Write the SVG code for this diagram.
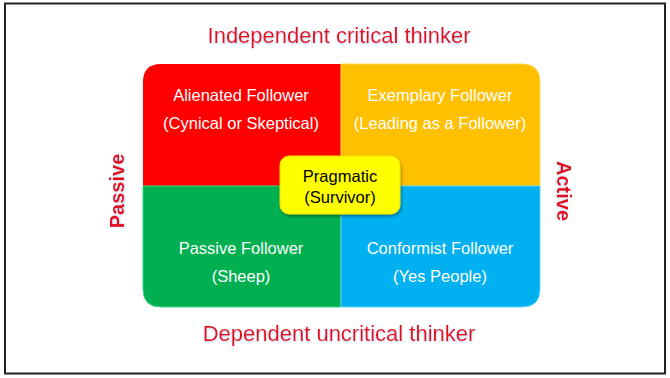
<svg xmlns="http://www.w3.org/2000/svg" width="670" height="378" viewBox="0 0 670 378">
<defs>
<filter id="glow" x="-10%" y="-30%" width="120%" height="160%"><feDropShadow dx="0" dy="1" stdDeviation="1" flood-color="#9fc4e8" flood-opacity="0.8"/></filter>
<filter id="shadow" x="-10%" y="-10%" width="125%" height="130%"><feDropShadow dx="1" dy="2" stdDeviation="1.5" flood-color="#000" flood-opacity="0.35"/></filter>
</defs>
<style>
.q{font-family:"Liberation Sans",Arial,sans-serif;font-size:16.5px;fill:#fff;text-anchor:middle}
.axis{font-family:"Liberation Sans",Arial,sans-serif;fill:#e3101c;text-anchor:middle}
.p{font-family:"Liberation Sans",Arial,sans-serif;font-size:16.5px;fill:#000;text-anchor:middle}
</style>
<rect x="0" y="0" width="670" height="378" fill="#fff"/>
<rect x="5" y="3.5" width="660" height="370" fill="none" stroke="#222" stroke-width="2"/>
<g id="title-top"><text class="axis" x="339" y="43" font-size="22" filter="url(#glow)">Independent critical thinker</text></g>
<g id="title-bottom"><text class="axis" x="339" y="341" font-size="22" filter="url(#glow)">Dependent uncritical thinker</text></g>
<g id="label-passive"><text class="axis" font-size="20" font-weight="bold" transform="translate(124,191) rotate(-90)" filter="url(#glow)">Passive</text></g>
<g id="label-active"><text class="axis" font-size="20" font-weight="bold" transform="translate(557,191) rotate(90)" filter="url(#glow)">Active</text></g>
<g id="alienated">
<path d="M143,186 V82 Q143,64 161,64 H341 V186 Z" fill="#ff0000"/>
<text class="q" x="241" y="101">Alienated Follower</text>
<text class="q" x="241" y="129">(Cynical or Skeptical)</text>
</g>
<g id="exemplary">
<path d="M341,64 H522 Q540,64 540,82 V186 H341 Z" fill="#ffc000" stroke="#ffd84a" stroke-width="1"/>
<text class="q" x="440" y="101">Exemplary Follower</text>
<text class="q" x="440" y="129">(Leading as a Follower)</text>
</g>
<g id="passive">
<path d="M143,186 H341 V307 H161 Q143,307 143,289 Z" fill="#00b050" stroke="#3fd08a" stroke-width="1"/>
<text class="q" x="241" y="254">Passive Follower</text>
<text class="q" x="241" y="282">(Sheep)</text>
</g>
<g id="conformist">
<path d="M341,186 H540 V289 Q540,307 522,307 H341 Z" fill="#00b0f0" stroke="#5fd0f8" stroke-width="1"/>
<text class="q" x="440" y="254">Conformist Follower</text>
<text class="q" x="440" y="282">(Yes People)</text>
</g>
<g id="pragmatic">
<rect x="280" y="156" width="120" height="58" rx="9" fill="#ffff00" stroke="#f0e000" stroke-width="1" filter="url(#shadow)"/>
<text class="p" x="340" y="182">Pragmatic</text>
<text class="p" x="340" y="203">(Survivor)</text>
</g>
<g id="connectors"></g>
</svg>
